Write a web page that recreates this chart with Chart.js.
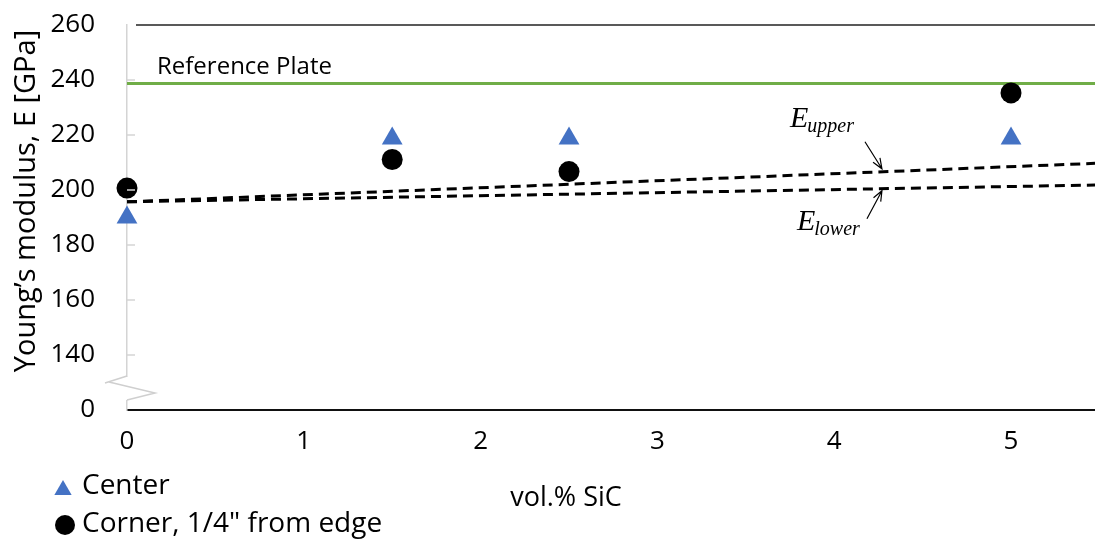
<!DOCTYPE html>
<html>
<head>
<meta charset="utf-8">
<script src="https://cdn.jsdelivr.net/npm/chart.js@4.4.0/dist/chart.umd.min.js"></script>
<style>
  html, body { margin: 0; background: #fff; overflow: hidden; }
  #wrap { width: 1095px; height: 546px; }
  canvas { display: block; }
</style>
</head>
<body>
<div id="wrap"><canvas id="modulusChart"></canvas></div>
<script>
// measured moduli
var volSiC = [0, 1.5, 2.5, 5];
var centerE = [190, 218.7, 218.7, 218.7];
var cornerE = [200.7, 211.1, 206.7, 235.3];

// reference plate level
var plateX = [0, 5.475];
var plateE = [238.7, 238.7];

// rule-of-mixtures bounds
var boundX = [0, 5.475];
var upperE = [195.7, 209.7];
var lowerE = [195.7, 201.8];

var arrowAt = 4.27; // vol.% where the bound labels point

var FONT = '"Open Sans"';

function pts(xs, ys) {
  return xs.map(function (x, i) { return { x: x, y: ys[i] }; });
}

function lineAt(xs, ys, x) {
  var t = (x - xs[0]) / (xs[1] - xs[0]);
  return ys[0] + t * (ys[1] - ys[0]);
}

function arrow(ctx, x0, y0, x1, y1) {
  var ang = Math.atan2(y1 - y0, x1 - x0), len = 11, spread = 0.38;
  ctx.beginPath();
  ctx.moveTo(x0, y0);
  ctx.lineTo(x1, y1);
  ctx.moveTo(x1 - len * Math.cos(ang - spread), y1 - len * Math.sin(ang - spread));
  ctx.lineTo(x1, y1);
  ctx.lineTo(x1 - len * Math.cos(ang + spread), y1 - len * Math.sin(ang + spread));
  ctx.stroke();
}

// italic E with a subscript right after it
function subLabel(ctx, x, y, sub) {
  ctx.font = 'italic 30px "Liberation Serif"';
  ctx.fillText('E', x, y);
  var w = ctx.measureText('E').width;
  ctx.font = 'italic 20px "Liberation Serif"';
  ctx.fillText(sub, x + w - 1, y + 5);
}

var extras = {
  id: 'extras',
  afterDraw: function (chart) {
    var ctx = chart.ctx, a = chart.chartArea;
    var xs = chart.scales.x, ys = chart.scales.y;
    ctx.save();

    // frame line along the top
    ctx.strokeStyle = '#595959';
    ctx.lineWidth = 2;
    ctx.beginPath();
    ctx.moveTo(a.left + 9, a.top);
    ctx.lineTo(a.right, a.top);
    ctx.stroke();

    // short inside tick marks
    ctx.strokeStyle = '#d4d4d4';
    ctx.lineWidth = 1.5;
    ys.ticks.forEach(function (t) {
      if (t.value > ys.min && t.value < ys.max) {
        var y = ys.getPixelForValue(t.value);
        ctx.beginPath();
        ctx.moveTo(a.left, y);
        ctx.lineTo(a.left + 8, y);
        ctx.stroke();
      }
    });

    // axis break
    var yb = ys.getPixelForValue(ys.min);
    ctx.fillStyle = '#fff';
    ctx.fillRect(a.left - 3, yb - 33, 6, 23);
    ctx.strokeStyle = '#cfcfcf';
    ctx.lineWidth = 1.5;
    ctx.beginPath();
    ctx.moveTo(a.left - 22, yb - 27);
    ctx.lineTo(a.left, yb - 34);
    ctx.moveTo(a.left - 18, yb - 28);
    ctx.lineTo(a.left + 28, yb - 17);
    ctx.lineTo(a.left, yb - 10);
    ctx.stroke();

    // y axis title
    ctx.fillStyle = '#000';
    ctx.font = '29px ' + FONT;
    ctx.textAlign = 'center';
    ctx.textBaseline = 'middle';
    ctx.save();
    ctx.translate(27, 201);
    ctx.rotate(-Math.PI / 2);
    ctx.fillText('Young\u2019s modulus, E [GPa]', 0, 0);
    ctx.restore();

    // x axis title
    ctx.font = '27px ' + FONT;
    ctx.fillText('vol.% SiC', 566, 498);

    // legend
    ctx.textAlign = 'left';
    ctx.fillStyle = '#4472C4';
    Chart.helpers.drawPoint(ctx, { pointStyle: 'triangle', radius: 10, rotation: 0, borderWidth: 0 }, 63, 490);
    ctx.fillStyle = '#000';
    Chart.helpers.drawPoint(ctx, { pointStyle: 'circle', radius: 10, rotation: 0, borderWidth: 0 }, 65, 525);
    ctx.font = '28px ' + FONT;
    ctx.fillText('Center', 82, 486);
    ctx.fillText('Corner, 1/4" from edge', 82, 524);

    // reference plate label
    ctx.font = '24px ' + FONT;
    ctx.textBaseline = 'alphabetic';
    ctx.fillText('Reference Plate', 157, 74);

    // bound labels with arrows
    var xp = xs.getPixelForValue(arrowAt);
    var yu = ys.getPixelForValue(lineAt(boundX, upperE, arrowAt));
    var yl = ys.getPixelForValue(lineAt(boundX, lowerE, arrowAt));
    ctx.strokeStyle = '#000';
    ctx.lineWidth = 1.2;
    arrow(ctx, xp - 17, yu - 30, xp, yu - 3);
    arrow(ctx, xp - 15, yl + 30, xp, yl + 2);

    subLabel(ctx, xp - 92, yu - 45, 'upper');
    subLabel(ctx, xp - 85, yl + 41, 'lower');

    ctx.restore();
  }
};

var dashed = { borderColor: '#000', borderWidth: 3, borderDash: [10, 6], pointRadius: 0, fill: false };

new Chart(document.getElementById('modulusChart'), {
  type: 'scatter',
  data: {
    datasets: [
      {
        label: 'Center',
        data: pts(volSiC, centerE),
        pointStyle: 'triangle',
        pointRadius: 12,
        backgroundColor: '#4472C4',
        borderWidth: 0,
        clip: false
      },
      {
        label: 'Corner, 1/4" from edge',
        data: pts(volSiC, cornerE),
        pointStyle: 'circle',
        pointRadius: 10.5,
        backgroundColor: '#000',
        borderWidth: 0,
        clip: false
      },
      Object.assign({ label: 'E upper', type: 'line', data: pts(boundX, upperE) }, dashed),
      Object.assign({ label: 'E lower', type: 'line', data: pts(boundX, lowerE) }, dashed),
      {
        label: 'Reference Plate',
        type: 'line',
        data: pts(plateX, plateE),
        borderColor: '#70AD47',
        borderWidth: 3,
        pointRadius: 0
      }
    ]
  },
  options: {
    responsive: true,
    maintainAspectRatio: false,
    animation: false,
    events: [],
    layout: { autoPadding: false, padding: { top: 25, right: 0, left: 0, bottom: 0 } },
    plugins: {
      legend: { display: false },
      tooltip: { enabled: false }
    },
    scales: {
      x: {
        type: 'linear',
        min: 0,
        max: 5.475,
        grid: { display: false, drawTicks: false },
        border: { color: '#111', width: 2 },
        ticks: {
          stepSize: 1,
          includeBounds: false,
          padding: 16,
          color: '#000',
          font: { family: 'Open Sans', size: 26 }
        },
        afterFit: function (s) {
          s.height = 136;
          s.paddingLeft = 0;
          s.paddingRight = 0;
        }
      },
      y: {
        min: 120,
        max: 260,
        grid: { display: false, drawTicks: false },
        border: { color: '#d4d4d4', width: 1.5 },
        ticks: {
          stepSize: 20,
          padding: 32,
          color: '#000',
          font: { family: 'Open Sans', size: 26 },
          callback: function (v) { return v === 120 ? '0' : v; }
        },
        afterFit: function (s) {
          s.width = 127;
          s.paddingTop = 0;
          s.paddingBottom = 0;
        }
      }
    }
  },
  plugins: [extras]
});
</script>
</body>
</html>
